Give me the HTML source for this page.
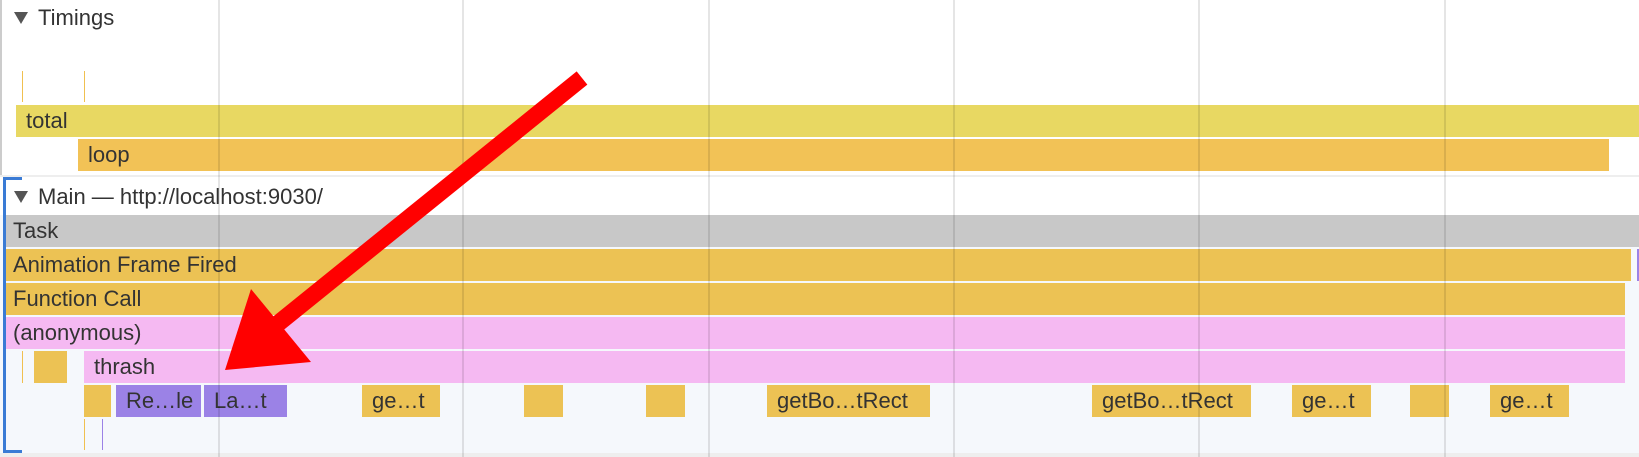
<!DOCTYPE html>
<html><head><style>
body{margin:0;width:1639px;height:457px;position:relative;overflow:hidden;background:#fff;font-family:"Liberation Sans",sans-serif;color:#333}
.b{position:absolute;height:32px;line-height:32px;font-size:22px;padding-left:7px;box-sizing:border-box;white-space:nowrap;overflow:hidden;color:#333}
.g{position:absolute;top:0;width:2px;height:457px;background:rgba(0,0,0,0.1)}
.y{background:#ecc254}.p{background:#f5b9f2}.v{background:#9b82e6}
</style></head><body>
<div style="position:absolute;left:0;top:0;width:2px;height:175px;background:#ccc"></div>
<div style="position:absolute;left:0;top:175px;width:1639px;height:282px;background:#f5f8fc"></div>
<div style="position:absolute;left:0;top:175px;width:1639px;height:2px;background:#eee"></div>
<div style="position:absolute;left:0;top:177px;width:1639px;height:38px;background:#fff"></div>
<div style="position:absolute;left:0;top:453px;width:1639px;height:4px;background:#eee"></div>
<div style="position:absolute;left:14px;top:12px;width:0;height:0;border-left:7px solid transparent;border-right:7px solid transparent;border-top:12px solid #555"></div>
<div style="position:absolute;left:38px;top:5px;font-size:22px;line-height:26px">Timings</div>
<div style="position:absolute;left:22px;top:71px;width:1px;height:31px;background:#f0c050"></div>
<div style="position:absolute;left:84px;top:71px;width:1px;height:31px;background:#f0c050"></div>
<div class="b" style="left:16px;top:105px;width:1623px;background:#e8d862;padding-left:10px">total</div>
<div class="b" style="left:78px;top:139px;width:1531px;background:#f2c256;padding-left:10px">loop</div>
<div style="position:absolute;left:3px;top:177px;width:3px;height:276px;background:#3a7bd5"></div>
<div style="position:absolute;left:3px;top:177px;width:19px;height:3px;background:#3a7bd5"></div>
<div style="position:absolute;left:3px;top:450px;width:19px;height:3px;background:#3a7bd5"></div>
<div style="position:absolute;left:14px;top:191px;width:0;height:0;border-left:7px solid transparent;border-right:7px solid transparent;border-top:12px solid #555"></div>
<div style="position:absolute;left:38px;top:184px;font-size:22px;line-height:26px">Main — http://localhost:9030/</div>
<div class="b" style="left:6px;top:215px;width:1633px;background:#c8c8c8">Task</div>
<div class="b y" style="left:6px;top:249px;width:1625px">Animation Frame Fired</div>
<div style="position:absolute;left:1637px;top:249px;width:2px;height:32px;background:#9b82e6"></div>
<div class="b y" style="left:6px;top:283px;width:1619px">Function Call</div>
<div class="b p" style="left:6px;top:317px;width:1619px">(anonymous)</div>
<div style="position:absolute;left:22px;top:351px;width:1px;height:32px;background:#f0c050"></div>
<div class="b y" style="left:34px;top:351px;width:33px"></div>
<div class="b p" style="left:84px;top:351px;width:1541px;padding-left:10px">thrash</div>
<div class="b y" style="left:84px;top:385px;width:27px"></div>
<div class="b v" style="left:116px;top:385px;width:85px;padding-left:10px">Re…le</div>
<div class="b v" style="left:204px;top:385px;width:83px;padding-left:10px">La…t</div>
<div class="b y" style="left:362px;top:385px;width:78px;padding-left:10px">ge…t</div>
<div class="b y" style="left:524px;top:385px;width:39px"></div>
<div class="b y" style="left:646px;top:385px;width:39px"></div>
<div class="b y" style="left:767px;top:385px;width:163px;padding-left:10px">getBo…tRect</div>
<div class="b y" style="left:1092px;top:385px;width:159px;padding-left:10px">getBo…tRect</div>
<div class="b y" style="left:1292px;top:385px;width:79px;padding-left:10px">ge…t</div>
<div class="b y" style="left:1410px;top:385px;width:39px"></div>
<div class="b y" style="left:1490px;top:385px;width:79px;padding-left:10px">ge…t</div>
<div style="position:absolute;left:84px;top:419px;width:1px;height:31px;background:#f0c050"></div>
<div style="position:absolute;left:102px;top:419px;width:1px;height:31px;background:#9b82e6"></div>
<div class="g" style="left:218px"></div><div class="g" style="left:462px"></div><div class="g" style="left:708px"></div><div class="g" style="left:953px"></div><div class="g" style="left:1198px"></div><div class="g" style="left:1444px"></div>
<svg width="1639" height="457" style="position:absolute;left:0;top:0">
<line x1="582" y1="78" x2="270" y2="330" stroke="#ff0000" stroke-width="17"/>
<polygon points="225,370 251,289 311,362" fill="#ff0000"/>
</svg>
</body></html>
